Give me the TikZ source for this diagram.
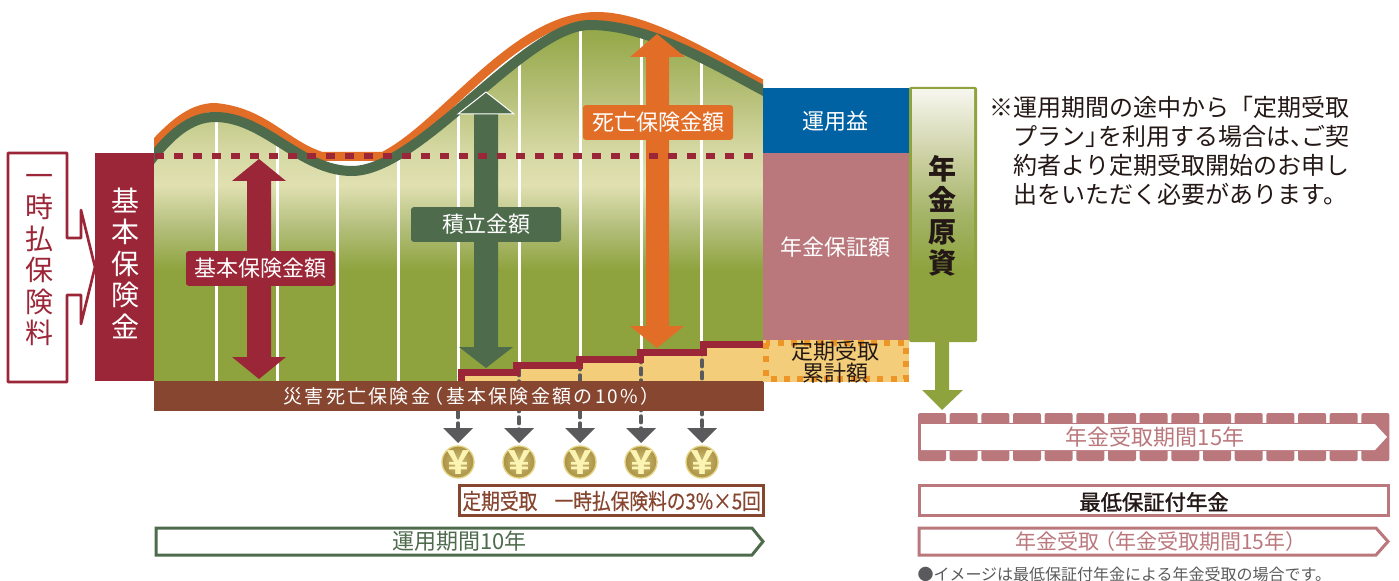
\documentclass[tikz,border=0pt]{standalone}
\usepackage{fontspec}
\setmainfont{Noto Sans CJK JP}
\newfontfamily\spacedfont[LetterSpace=12]{Noto Sans CJK JP}
\newfontfamily\narrowfont[FakeStretch=0.85,FakeBold=0.3]{Noto Sans CJK JP}
\newfontfamily\mediumfont[FakeBold=1.4]{Noto Sans CJK JP}
\definecolor{wine}{RGB}{155,38,56}
\definecolor{leaf}{RGB}{142,163,62}
\definecolor{pine}{RGB}{78,107,76}
\definecolor{carrot}{RGB}{225,109,39}
\definecolor{rust}{RGB}{135,70,48}
\definecolor{rosy}{RGB}{186,120,125}
\definecolor{sea}{RGB}{0,97,163}
\definecolor{straw}{RGB}{243,205,122}
\definecolor{amber}{RGB}{238,149,39}
\definecolor{slate}{RGB}{90,90,92}
\definecolor{ink}{RGB}{35,24,21}
\definecolor{fieldtop}{RGB}{150,169,75}
\definecolor{fieldb}{RGB}{185,194,124}
\definecolor{fieldc}{RGB}{213,216,162}
\definecolor{fieldd}{RGB}{224,224,177}
\definecolor{fielde}{RGB}{181,192,126}
\definecolor{pilla}{RGB}{245,245,236}
\definecolor{pillb}{RGB}{201,206,158}
\definecolor{pillc}{RGB}{163,180,102}
\definecolor{coinrim}{RGB}{226,210,128}
\definecolor{coinin}{RGB}{206,190,122}
\definecolor{coinout}{RGB}{170,146,68}
\definecolor{coinyen}{RGB}{252,244,178}
\pgfdeclareverticalshading{fieldshade}{100bp}{color(0bp)=(leaf); color(40.4bp)=(leaf); color(46.6bp)=(fielde); color(52.1bp)=(fieldd); color(57bp)=(fieldc); color(63.9bp)=(fieldb); color(72.9bp)=(fieldtop); color(100bp)=(fieldtop)}
\pgfdeclareverticalshading{pillarshade}{100bp}{color(0bp)=(leaf); color(38.9bp)=(leaf); color(49.9bp)=(pillc); color(60.9bp)=(pillb); color(74.6bp)=(pilla); color(100bp)=(pilla)}
\newcommand{\pinecurve}{(150,161) .. controls (170,135) and (190,117) .. (215,117) .. controls (265,117) and (300,171) .. (352,171) .. controls (420,171) and (525,25) .. (590,25) .. controls (650,25) and (715,65) .. (770,94)}
\tikzset{
  every picture/.style={line width=0.75pt},
  fsbig/.style={font=\fontsize{21}{23.6}\selectfont},
  fsmid/.style={font=\fontsize{16.5}{20}\selectfont},
  fssub/.style={font=\fontsize{15.75}{19}\selectfont},
  tag/.style={fsmid,text=white,rounded corners=2pt,inner sep=0pt,minimum height=26pt},
  coin/.style={circle,minimum size=24pt,inner sep=0pt,draw=coinrim,line width=1pt,inner color=coinin,outer color=coinout,text=coinyen,font=\fontsize{24}{24}\selectfont\bfseries},
}
\begin{document}
\begin{tikzpicture}[x=0.75pt,y=0.75pt,yscale=-1,xscale=1]
\useasboundingbox (0,0) rectangle (1399,581);

%Field under the curve
\begin{scope}
\clip \pinecurve -- (770,381) -- (150,381) -- cycle;
\shade[shading=fieldshade] (154,20) rectangle (763,381);
\foreach \xpos in {216,277,337,398,458,519,580,641,701}
  \draw [white,line width=2.25pt] (\xpos,20) -- (\xpos,381);
\end{scope}

%Curves
\begin{scope}
\clip (154,0) rectangle (763,381);
\draw [carrot,line width=6.75pt] (150,149) .. controls (170,127) and (190,107.5) .. (215,107.5) .. controls (265,112) and (285,145) .. (322,156.5) -- (383,156.5) .. controls (445,125) and (515,16.5) .. (597,16.5) .. controls (650,16.5) and (715,60) .. (770,88);
\draw [pine,line width=7.5pt] \pinecurve;
\end{scope}

%Base premium blocks
\fill [wine] (95,153) rectangle (154,381);
\draw [wine,line width=2pt,line join=round] (8,153) -- (67,153) -- (67,238) -- (81,238) -- (81,210) -- (95,267) -- (81,324) -- (81,295) -- (67,295) -- (67,382) -- (8,382) -- cycle;

%Double arrows
\fill [wine] (259,159) -- (286,181) -- (271,181) -- (271,357) -- (286,357) -- (259,379) -- (232,357) -- (247,357) -- (247,181) -- (232,181) -- cycle;
\fill [pine] (486,92) -- (514,114) -- (498,114) -- (498,347) -- (513,347) -- (486,368) -- (459,347) -- (474,347) -- (474,114) -- (458,114) -- cycle;
\draw [white] (458,114) -- (486,92) -- (514,114) -- cycle;
\fill [carrot] (657,34) -- (685,57) -- (669,57) -- (669,326) -- (684,326) -- (657,348) -- (630,326) -- (646,326) -- (646,57) -- (630,57) -- cycle;

%Dashed base line
\draw [wine,line width=4.5pt,dash pattern=on 7.1pt off 7.15pt] (155,156.5) -- (763,156.5);

%Received amounts, steps
\fill [straw] (461,381) -- (461,372) -- (516.5,372) -- (516.5,365) -- (579.5,365) -- (579.5,359.5) -- (640.5,359.5) -- (640.5,352.5) -- (703,352.5) -- (703,344) -- (763,344) -- (763,381) -- cycle;
\foreach \xpos/\ypos in {458/411,519/369,580/363,641/356,702/348}{
  \draw [slate,line width=2.6pt,line cap=round,dash pattern=on 5pt off 4pt] (\xpos,\ypos) -- (\xpos,430);
  \fill [slate] (\xpos-15,428) -- (\xpos+15,428) -- (\xpos,443) -- cycle;
}
\draw [wine,line width=5.25pt] (461,381) -- (461,372) -- (516.5,372) -- (516.5,365) -- (579.5,365) -- (579.5,359.5) -- (640.5,359.5) -- (640.5,352.5) -- (703,352.5) -- (703,344) -- (763,344);
\fill [rust] (154,381) rectangle (764,411);

%Right column
\fill [sea] (763,88) rectangle (909,153);
\fill [rosy] (763,153) rectangle (909,340);
\fill [straw] (763,340) rectangle (909,382);
\draw [amber,line width=4.5pt,dash pattern=on 4.5pt off 5.5pt] (766,343) rectangle (906,378.5);
\fill [leaf,rounded corners=1.5pt] (909,87) rectangle (977,342);
\shade [shading=pillarshade] (912,90) rectangle (974,340);
\fill [leaf] (935,340) -- (949,340) -- (949,390) -- (963,390) -- (942,410) -- (922,390) -- (935,390) -- cycle;

%Fifteen year band
\fill [rosy] (918,423) rectangle (1389,451);
\foreach \i in {0,...,14}
  \fill [rosy,rounded corners=1.5pt] ({918+31.67*\i},413) rectangle ({946+31.67*\i},461);
\fill [white] (921,424) -- (1375,424) -- (1387,437) -- (1375,450) -- (921,450) -- cycle;

%Outlined boxes
\draw [rust,line width=2.25pt] (459,485.5) rectangle (763,515.5);
\draw [rosy,line width=2.25pt] (919,485.5) rectangle (1388,515.5);
\draw [rosy,line width=2.25pt] (919,528) -- (1376,528) -- (1388,541.5) -- (1376,555) -- (919,555) -- cycle;
\draw [pine,line width=2.25pt] (156,528) -- (752,528) -- (763,541.5) -- (752,555) -- (156,555) -- cycle;

% Text Node
\node (oneTime) at (40,260) [fsbig,text=wine,align=center] {一\\時\\払\\保\\険\\料};
% Text Node
\node (basePrem) at (125,263) [fsbig,text=white,align=center] {基\\本\\保\\険\\金};
% Text Node
\node (baseTag) at (260.5,268.5) [tag,fill=wine,minimum width=111.75pt] {基本保険金額};
% Text Node
\node (saveTag) at (486,224.5) [tag,fill=pine,minimum width=112.5pt] {積立金額};
% Text Node
\node (deathTag) at (658,122.5) [tag,fill=carrot,minimum width=112.5pt] {死亡保険金額};
% Text Node
\node (disaster) at (283,396) [anchor=west,inner sep=0pt,font=\fontsize{14.25}{16}\selectfont\spacedfont,text=white] {災害死亡保険金\kern-4pt（基本保険金額の10\%）};
% Text Node
\node (gain) at (835,121) [fsmid,text=white] {運用益};
% Text Node
\node (guarantee) at (835,247) [fsmid,text=white] {年金保証額};
\begin{scope}
\clip (763,340) rectangle (909,382);
% Text Node
\node (received) at (835,362) [fsmid,text=ink,align=center,font=\fontsize{16.5}{16.2}\selectfont] {定期受取\\累計額};
\end{scope}
% Text Node
\node (capital) at (942,216) [fsbig,text=ink,align=center,font=\fontsize{21}{23.6}\selectfont\bfseries] {年\\金\\原\\資};
% Text Node
\node (note) at (1013,96) [anchor=north west,inner sep=0pt,align=left,text=ink,font=\fontsize{18}{21.75}\selectfont] {\llap{※}運用期間の途中から「定期受取\\プラン」\kern-8pt を利用する場合は、\kern-10pt ご契\\約者より定期受取開始のお申し\\出をいただく必要があります。};
% Text Node
\foreach \xpos [count=\i] in {458,519,580,641,702}
  \node (coin\i) at (\xpos,462) [coin] {\smash{\makebox[0pt]{\raisebox{-.38em}{￥}}}};
% Text Node
\node (perYear) at (462,501) [anchor=west,inner sep=0pt,text=rust,font=\fontsize{16.5}{20}\selectfont\narrowfont] {定期受取\hspace{13pt}一時払保険料の3\%×5回};
% Text Node
\node (period) at (459.5,541) [fsmid,text=pine] {運用期間10年};
% Text Node
\node (fifteen) at (1155,437) [fsmid,text=rosy] {年金受取期間15年};
% Text Node
\node (minimum) at (1154,502) [text=ink,font=\fontsize{16}{19}\selectfont\mediumfont] {最低保証付年金};
% Text Node
\node (receipt) at (1015,541.5) [anchor=west,inner sep=0pt,fssub,text=rosy] {年金受取\kern-4pt（年金受取期間15年）};
% Text Node
\node (caption) at (917,574) [anchor=west,inner sep=0pt,text=slate,font=\fontsize{12}{14}\selectfont] {●イメージは最低保証付年金による年金受取の場合です。};
\end{tikzpicture}
\end{document}
